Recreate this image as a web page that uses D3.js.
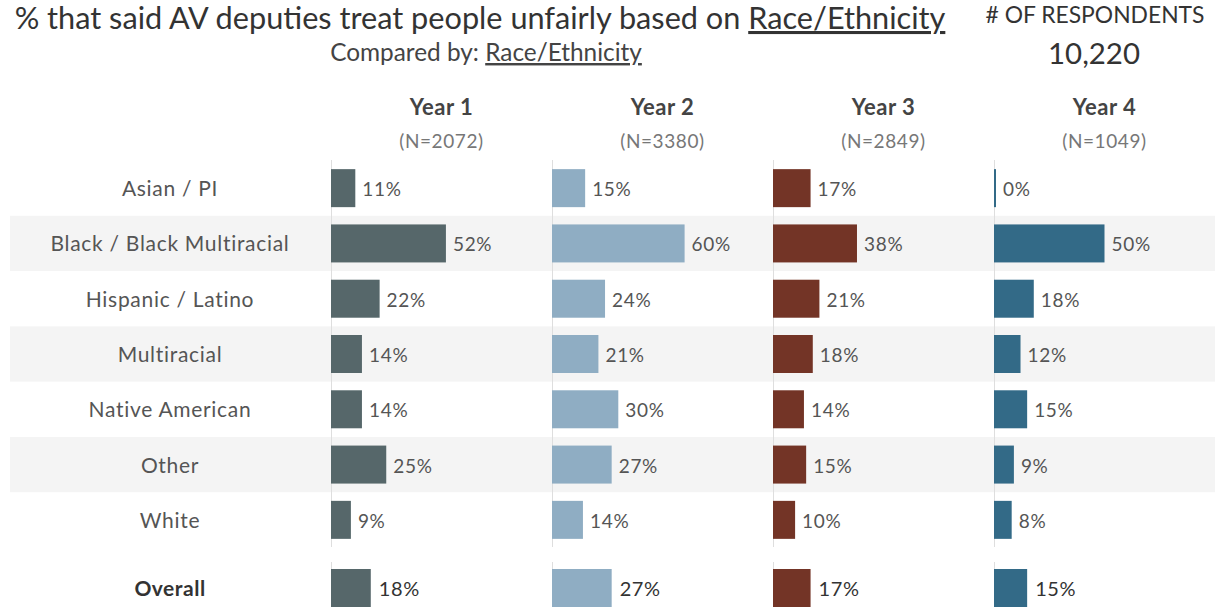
<!DOCTYPE html>
<html><head><meta charset="utf-8">
<script src="https://cdn.jsdelivr.net/npm/d3@7"></script>
<style>body{margin:0;background:#fff;} svg{display:block;font-family:Lato,"Open Sans",sans-serif;}</style>
</head><body><svg id="c" width="1215" height="607"></svg>
<script>
const categories = ["Asian / PI","Black / Black Multiracial","Hispanic / Latino","Multiracial","Native American","Other","White"];
const years = ["Year 1","Year 2","Year 3","Year 4"];
const nLabels = ["(N=2072)","(N=3380)","(N=2849)","(N=1049)"];
const year1 = [11,52,22,14,14,25,9];
const year2 = [15,60,24,21,30,27,14];
const year3 = [17,38,21,18,14,15,10];
const year4 = [0,50,18,12,15,9,8];
const overall = [18,27,17,15];
const colors = ["#56676a","#8fadc3","#733426","#336a87"];
const series = [year1,year2,year3,year4];

const svg = d3.select("#c");
const W = 1215;

const xPanel = d3.scaleBand().domain(years).range([331, 1215]).padding(0);
const pw = xPanel.bandwidth();
const xVal = d3.scaleLinear().domain([0,100]).range([0, pw]);
const yRow = d3.scaleBand().domain(categories).range([160.5, 547.5]).padding(0);
const barH = 38;
const overallY = 588;

svg.selectAll("rect.band").data(categories.filter((d,i)=>i%2===1)).join("rect")
  .attr("x",10).attr("width",W-10).attr("y",d=>yRow(d)).attr("height",yRow.bandwidth())
  .attr("fill","#f4f4f4");

years.forEach(y=>{
  const x = xPanel(y)+0.5;
  svg.append("line").attr("x1",x).attr("x2",x).attr("y1",160).attr("y2",547).attr("stroke","#dedede").attr("stroke-width",1);
  svg.append("line").attr("x1",x).attr("x2",x).attr("y1",562).attr("y2",607).attr("stroke","#dedede").attr("stroke-width",1);
});

function fitText(sel, width){
  let fs = parseFloat(sel.attr("font-size"));
  const w = sel.node().getComputedTextLength();
  sel.attr("font-size", fs*width/w);
}
const title = svg.append("text").attr("x",480).attr("y",29).attr("text-anchor","middle")
  .attr("font-size",24).attr("fill","#333");
title.append("tspan").text("% that said AV deputies treat people unfairly based on ");
title.append("tspan").attr("text-decoration","underline").text("Race/Ethnicity");
fitText(title, 931);

const sub = svg.append("text").attr("x",486).attr("y",61).attr("text-anchor","middle")
  .attr("font-size",18).attr("fill","#444");
sub.append("tspan").text("Compared by: ");
sub.append("tspan").attr("text-decoration","underline").text("Race/Ethnicity");
fitText(sub, 312);

const resp = svg.append("text").attr("x",1095).attr("y",23).attr("text-anchor","middle")
  .attr("font-size",17).attr("fill","#333").text("# OF RESPONDENTS");
fitText(resp, 219);
const tot = svg.append("text").attr("x",1094).attr("y",64).attr("text-anchor","middle")
  .attr("font-size",25).attr("fill","#333").text("10,220");
fitText(tot, 92);

years.forEach((y,i)=>{
  const cx = xPanel(y)+pw/2;
  svg.append("text").attr("x",cx).attr("y",115).attr("text-anchor","middle")
    .attr("font-size",22).attr("letter-spacing",0.5).attr("font-weight","bold").attr("fill","#444").text(y);
  svg.append("text").attr("x",cx).attr("y",148).attr("text-anchor","middle")
    .attr("font-size",19).attr("letter-spacing",0.6).attr("fill","#777").text(nLabels[i]);
});

svg.selectAll("text.cat").data(categories).join("text")
  .attr("x",170).attr("y",d=>yRow(d)+yRow.bandwidth()/2).attr("dy","0.38em")
  .attr("text-anchor","middle").attr("font-size",21).attr("letter-spacing",0.7).attr("fill","#555").text(d=>d);
svg.append("text").attr("x",170).attr("y",overallY).attr("dy","0.38em")
  .attr("text-anchor","middle").attr("font-size",21).attr("letter-spacing",0.5).attr("font-weight","bold").attr("fill","#333").text("Overall");

series.forEach((vals,si)=>{
  const x0 = xPanel(years[si]);
  const g = svg.append("g");
  g.selectAll("rect").data(vals).join("rect")
    .attr("x",x0).attr("y",(d,i)=>yRow(categories[i])+yRow.bandwidth()/2-barH/2)
    .attr("width",d=>Math.max(2,xVal(d))).attr("height",barH).attr("fill",colors[si]);
  g.selectAll("text").data(vals).join("text")
    .attr("x",d=>x0+Math.max(2,xVal(d))+7).attr("y",(d,i)=>yRow(categories[i])+yRow.bandwidth()/2)
    .attr("dy","0.42em").attr("font-size",19).attr("letter-spacing",0.7).attr("fill","#555").text(d=>d+"%");
  g.append("rect").attr("x",x0).attr("y",overallY-barH/2).attr("width",xVal(overall[si])).attr("height",barH).attr("fill",colors[si]);
  g.append("text").attr("x",x0+xVal(overall[si])+8).attr("y",overallY).attr("dy","0.42em")
    .attr("font-size",20).attr("letter-spacing",0.6).attr("fill","#333").text(overall[si]+"%");
});
</script></body></html>
